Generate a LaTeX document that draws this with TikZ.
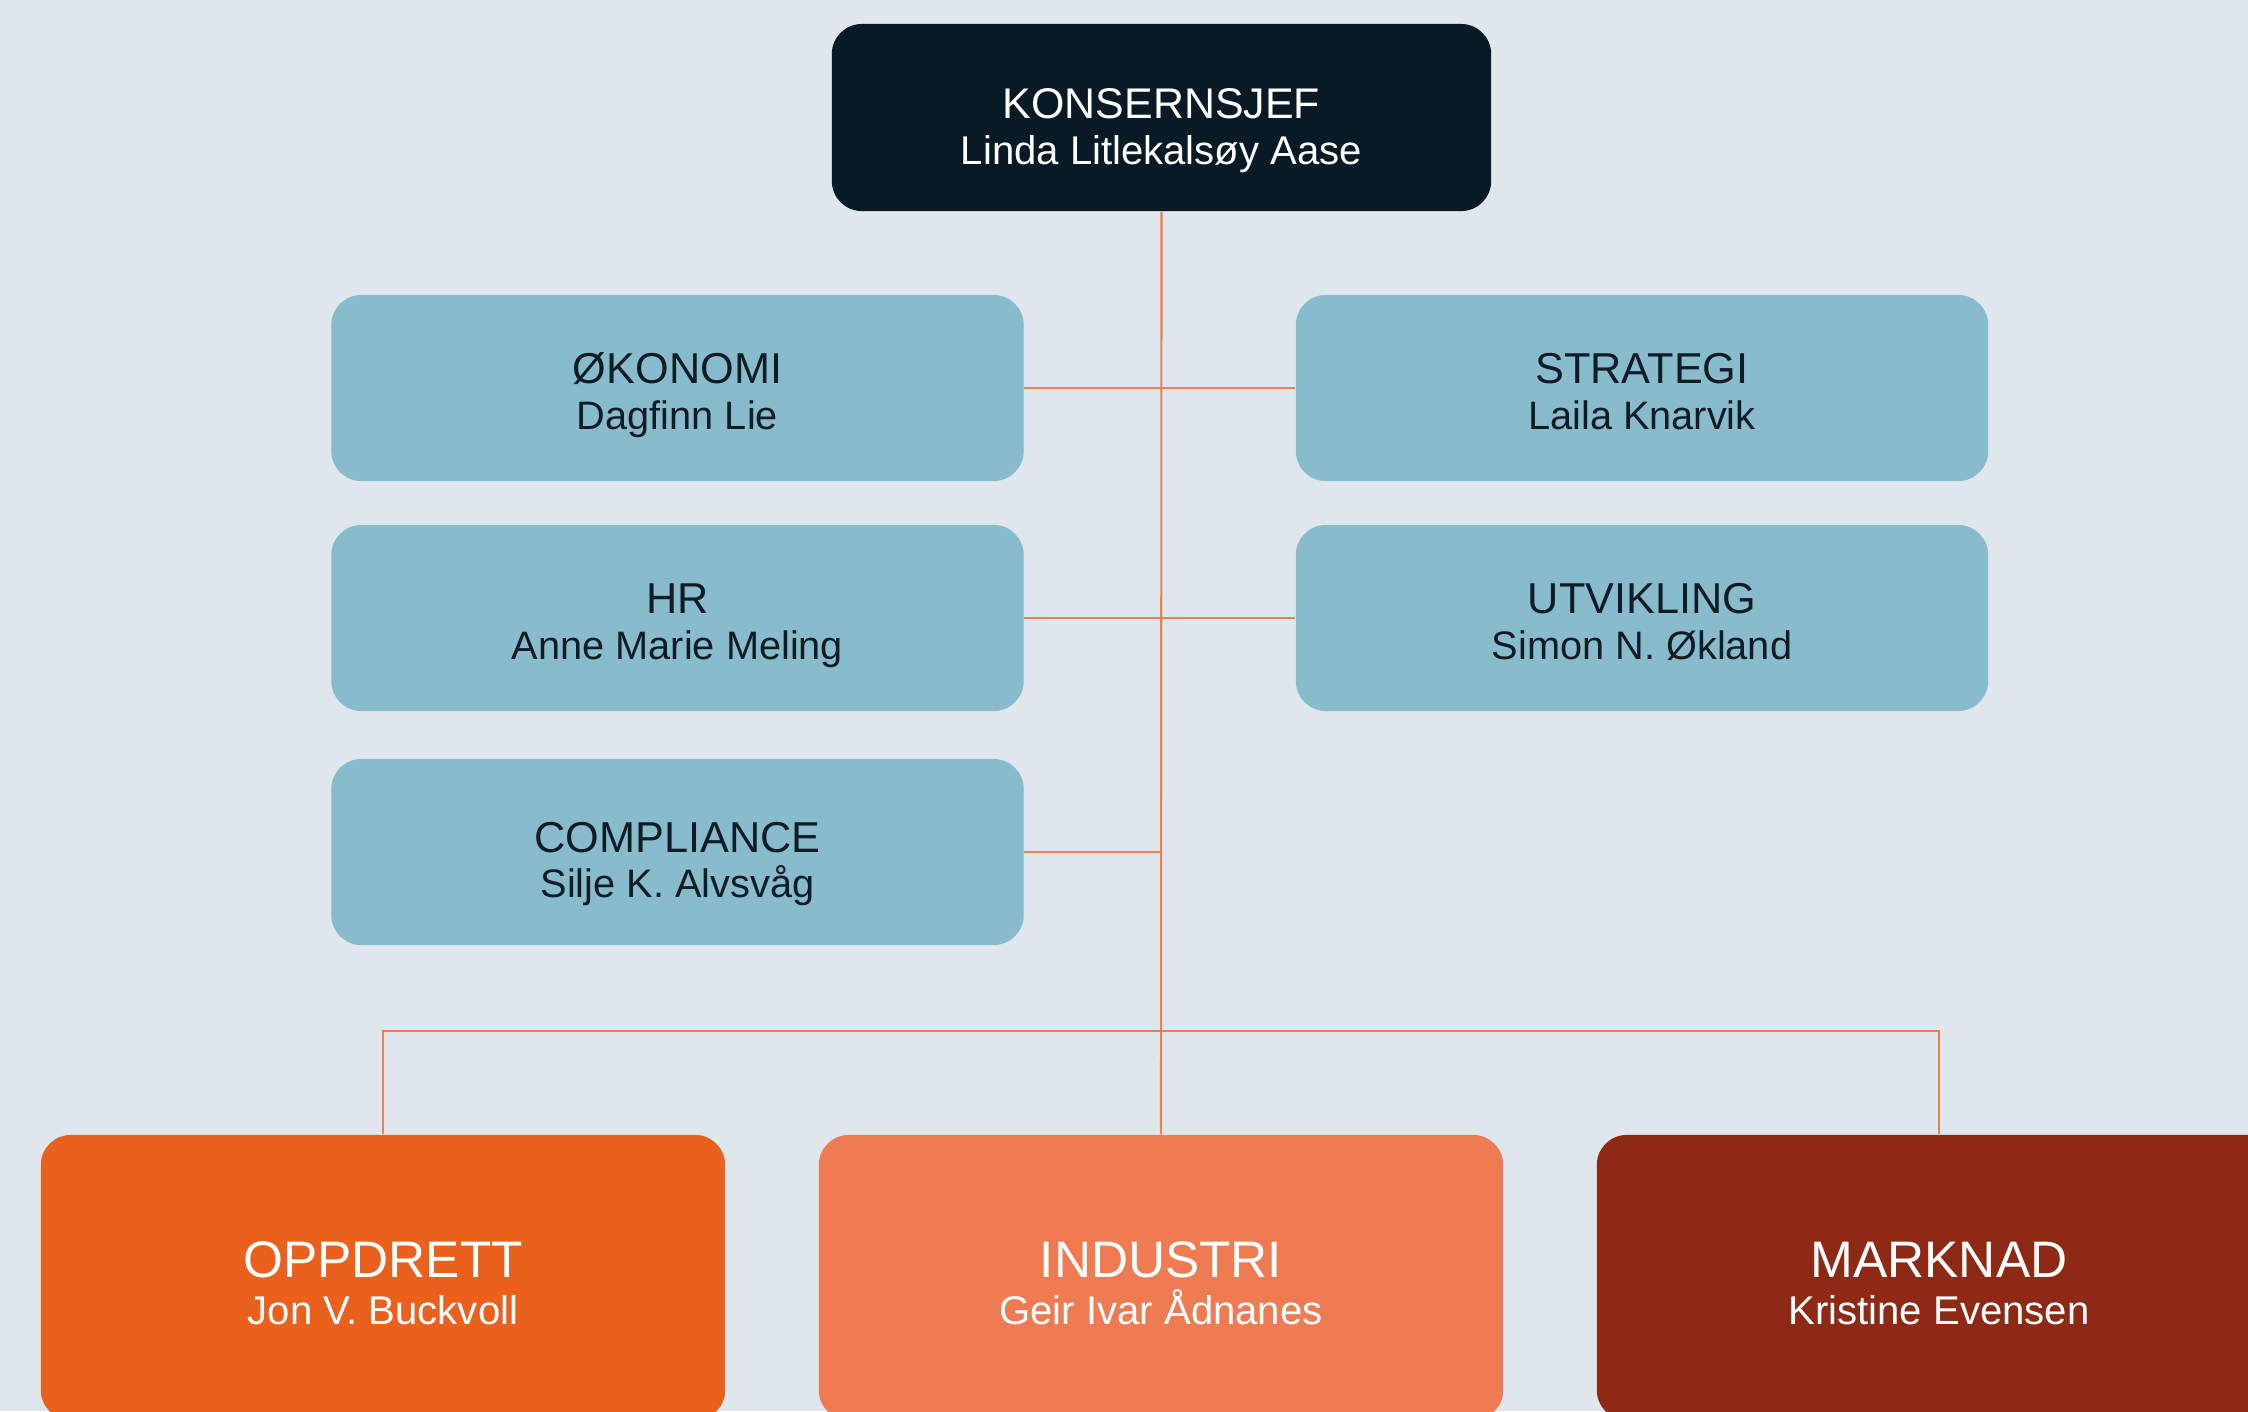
\documentclass[tikz,border=0pt]{standalone}
\usepackage{fontspec}
\setmainfont{Liberation Sans}
\usetikzlibrary{calc}
\definecolor{bg}{HTML}{DFE7ED}
\definecolor{navy}{HTML}{071A26}
\definecolor{lblue}{HTML}{88BCCC}
\definecolor{dtext}{HTML}{0E1C26}
\definecolor{oppc}{HTML}{EA611D}
\definecolor{indc}{HTML}{EE7B52}
\definecolor{marc}{HTML}{8D2914}
\definecolor{linec}{HTML}{E8834F}
\tikzset{
  box/.style={rectangle, rounded corners=0.3cm, inner sep=0pt},
  ceobox/.style={box, fill=navy, minimum width=6.59cm, minimum height=1.87cm},
  bluebox/.style={box, fill=lblue, minimum width=6.92cm, minimum height=1.86cm},
  bigbox/.style={box, minimum width=6.84cm, minimum height=2.85cm},
  ttl/.style={anchor=base, inner sep=0pt, font=\fontsize{12.3pt}{14pt}\selectfont},
  nme/.style={anchor=base, inner sep=0pt, font=\fontsize{11.3pt}{13pt}\selectfont},
  bigttl/.style={anchor=base, inner sep=0pt, text=white, font=\fontsize{14.6pt}{17pt}\selectfont},
  bignme/.style={anchor=base, inner sep=0pt, text=white, font=\fontsize{11.4pt}{13pt}\selectfont},
  conn/.style={draw=linec, line width=0.6pt}
}
\begin{document}
\begin{tikzpicture}[x=0.01cm,y=-0.01cm]
\clip (0,0) rectangle (2248,1411);
\fill[bg] (0,0) rectangle (2248,1411);

% boxes
\node[ceobox] (ceo) at (1161.5,117.5) {};
\node[bluebox] (oko) at (677.5,388) {};
\node[bluebox] (str) at (1642,388) {};
\node[bluebox] (hr) at (677.5,618) {};
\node[bluebox] (utv) at (1642,618) {};
\node[bluebox] (comp) at (677.5,852) {};
\node[bigbox, fill=oppc] (opp) at (383,1277.5) {};
\node[bigbox, fill=indc] (ind) at (1161,1277.5) {};
\node[bigbox, fill=marc] (mar) at (1939,1277.5) {};

% connectors
\coordinate (bar) at (1161,1031);
\draw[conn] (ceo.south) -- (ind.north);
\draw[conn] (opp.north) |- (bar) -| (mar.north);
\draw[conn] (oko.east) -- (str.west);
\draw[conn] (hr.east) -- (utv.west);
\draw[conn] (comp.east) -- (comp.east -| ceo.south);

% texts
\node[ttl, text=white, font=\fontsize{12.2pt}{14pt}\selectfont] (ceot) at ($(ceo.center)+(0,0.5)$) {KONSERNSJEF};
\node[nme, text=white, font=\fontsize{11.4pt}{13pt}\selectfont] (ceon) at ($(ceo.center)+(0,46.5)$) {Linda Litlekalsøy Aase};

\node[ttl, text=dtext] (okot) at ($(oko.center)+(0,-4.5)$) {ØKONOMI};
\node[nme, text=dtext] (okon) at ($(oko.center)+(0,41.5)$) {Dagfinn Lie};
\node[ttl, text=dtext] (strt) at ($(str.center)+(0,-4.5)$) {STRATEGI};
\node[nme, text=dtext] (strn) at ($(str.center)+(0,41.5)$) {Laila Knarvik};
\node[ttl, text=dtext] (hrt) at ($(hr.center)+(0,-4.5)$) {HR};
\node[nme, text=dtext] (hrn) at ($(hr.center)+(0,41.5)$) {Anne Marie Meling};
\node[ttl, text=dtext] (utvt) at ($(utv.center)+(0,-4.5)$) {UTVIKLING};
\node[nme, text=dtext] (utvn) at ($(utv.center)+(0,41.5)$) {Simon N. Økland};
\node[ttl, text=dtext] (compt) at ($(comp.center)+(0,0)$) {COMPLIANCE};
\node[nme, text=dtext] (compn) at ($(comp.center)+(0,45)$) {Silje K. Alvsvåg};

\node[bigttl] (oppt) at ($(opp.north)+(0,143)$) {OPPDRETT};
\node[bignme] (oppn) at ($(opp.north)+(0,190)$) {Jon V. Buckvoll};
\node[bigttl] (indt) at ($(ind.north)+(0,143)$) {INDUSTRI};
\node[bignme] (indn) at ($(ind.north)+(0,190)$) {Geir Ivar Ådnanes};
\node[bigttl] (mart) at ($(mar.north)+(0,143)$) {MARKNAD};
\node[bignme] (marn) at ($(mar.north)+(0,190)$) {Kristine Evensen};
\end{tikzpicture}
\end{document}
